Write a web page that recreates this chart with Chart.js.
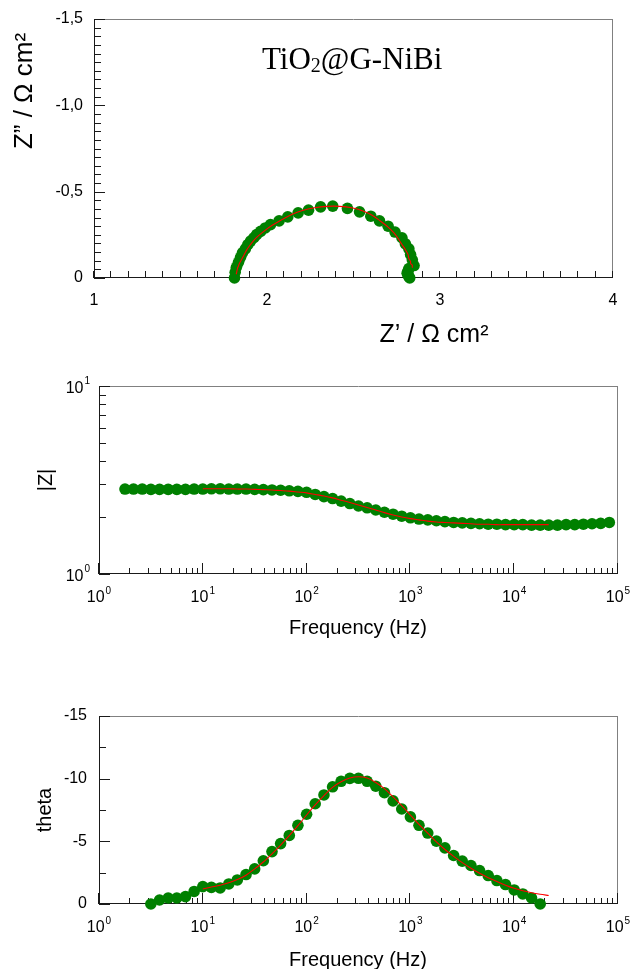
<!DOCTYPE html>
<html><head><meta charset="utf-8">
<script src="https://cdn.jsdelivr.net/npm/chart.js@4.4.1/dist/chart.umd.min.js"></script>
<style>
html,body{margin:0;padding:0;background:#fff;}
body{width:633px;height:969px;position:relative;overflow:hidden;}
.box{position:absolute;left:0;width:633px;}
</style></head><body>
<div class="box" style="top:0;height:350px"><canvas id="c1"></canvas></div>
<div class="box" style="top:350px;height:310px"><canvas id="c2"></canvas></div>
<div class="box" style="top:660px;height:309px"><canvas id="c3"></canvas></div>
<script>
// ---------------- DATA ----------------
// Bode |Z| (measured)
const freqBode = [1.78, 2.15, 2.61, 3.16, 3.83, 4.64, 5.62, 6.81, 8.25, 10, 12.1, 14.7, 17.8, 21.5, 26.1, 31.6, 38.3, 46.4, 56.2, 68.1, 82.5, 100, 121, 147, 178, 215, 261, 316, 383, 464, 562, 681, 825, 1000, 1210, 1470, 1780, 2150, 2610, 3160, 3830, 4640, 5620, 6810, 8250, 10000, 12100, 14700, 17800, 21500, 26100, 31600, 38300, 46400, 56200, 68100, 82500];
const magBode = [2.83, 2.83, 2.83, 2.82, 2.82, 2.82, 2.82, 2.82, 2.83, 2.83, 2.84, 2.84, 2.83, 2.83, 2.83, 2.82, 2.81, 2.80, 2.79, 2.77, 2.75, 2.72, 2.65, 2.58, 2.52, 2.44, 2.37, 2.30, 2.25, 2.19, 2.13, 2.08, 2.03, 1.99, 1.96, 1.94, 1.92, 1.90, 1.88, 1.87, 1.86, 1.85, 1.84, 1.84, 1.83, 1.83, 1.83, 1.82, 1.82, 1.82, 1.82, 1.83, 1.83, 1.84, 1.85, 1.86, 1.88];
// Bode phase (measured)
const freqPhase = [3.16, 3.83, 4.64, 5.62, 6.81, 8.25, 10, 12.1, 14.7, 17.8, 21.5, 26.1, 31.6, 38.3, 46.4, 56.2, 68.1, 82.5, 100, 121, 147, 178, 215, 261, 316, 383, 464, 562, 681, 825, 1000, 1210, 1470, 1780, 2150, 2610, 3160, 3830, 4640, 5620, 6810, 8250, 10000, 12100, 14700, 17800];
const phaseData = [0, -0.32, -0.48, -0.48, -0.59, -1.0, -1.39, -1.33, -1.28, -1.6, -1.92, -2.35, -2.8, -3.45, -4.18, -4.82, -5.47, -6.28, -7.16, -8.0, -8.7, -9.35, -9.79, -10.02, -10.03, -9.79, -9.4, -8.88, -8.23, -7.58, -6.95, -6.28, -5.66, -5.02, -4.48, -3.87, -3.42, -3.07, -2.67, -2.27, -1.87, -1.55, -1.12, -0.8, -0.48, 0];
// Nyquist (measured)
const zReal = [2.825, 2.82, 2.815, 2.81, 2.815, 2.82, 2.85, 2.84, 2.83, 2.82, 2.80, 2.78, 2.74, 2.70, 2.65, 2.60, 2.535, 2.465, 2.38, 2.31, 2.24, 2.18, 2.12, 2.07, 2.02, 1.99, 1.963, 1.94, 1.924, 1.905, 1.889, 1.875, 1.858, 1.847, 1.835, 1.823, 1.816, 1.812];
const zImag = [0, -0.008, -0.018, -0.028, -0.04, -0.055, -0.072, -0.105, -0.136, -0.169, -0.198, -0.233, -0.266, -0.30, -0.331, -0.358, -0.383, -0.403, -0.416, -0.412, -0.393, -0.377, -0.354, -0.331, -0.309, -0.29, -0.27, -0.251, -0.233, -0.214, -0.193, -0.169, -0.146, -0.12, -0.091, -0.062, -0.033, 0];
// Fitted model curve
const freqFit = [10, 12.1, 14.7, 17.8, 21.5, 26.1, 31.6, 38.3, 46.4, 56.2, 68.1, 82.5, 100, 121, 147, 178, 215, 261, 316, 383, 464, 562, 681, 825, 1000, 1210, 1470, 1780, 2150, 2610, 3160, 3830, 4640, 5620, 6810, 8250, 10000, 12100, 14700, 17800, 21500];
const magFit = [2.84, 2.84, 2.84, 2.84, 2.83, 2.83, 2.82, 2.81, 2.80, 2.78, 2.76, 2.73, 2.70, 2.65, 2.60, 2.54, 2.47, 2.40, 2.33, 2.26, 2.19, 2.12, 2.06, 2.01, 1.97, 1.94, 1.91, 1.89, 1.88, 1.87, 1.86, 1.85, 1.84, 1.84, 1.83, 1.83, 1.83, 1.83, 1.83, 1.83, 1.83];
const phaseFit = [-1.2, -1.35, -1.5, -1.7, -1.95, -2.3, -2.8, -3.35, -4.0, -4.7, -5.45, -6.25, -7.1, -7.9, -8.65, -9.3, -9.75, -10.05, -10.15, -10.05, -9.7, -9.2, -8.55, -7.85, -7.1, -6.35, -5.65, -4.95, -4.35, -3.8, -3.3, -2.85, -2.45, -2.1, -1.8, -1.5, -1.25, -1.05, -0.9, -0.78, -0.68];
const zRealFit = [2.84, 2.84, 2.84, 2.83, 2.83, 2.82, 2.815, 2.80, 2.78, 2.76, 2.735, 2.70, 2.655, 2.61, 2.555, 2.49, 2.42, 2.345, 2.275, 2.205, 2.14, 2.085, 2.03, 1.985, 1.948, 1.92, 1.9, 1.883, 1.872, 1.862, 1.853, 1.845, 1.838, 1.834, 1.83, 1.828, 1.826, 1.825, 1.824, 1.823, 1.822];
const zImagFit = [-0.059, -0.067, -0.074, -0.084, -0.096, -0.113, -0.137, -0.164, -0.194, -0.226, -0.26, -0.295, -0.33, -0.362, -0.388, -0.407, -0.415, -0.415, -0.407, -0.391, -0.366, -0.337, -0.305, -0.273, -0.242, -0.214, -0.188, -0.163, -0.143, -0.124, -0.107, -0.092, -0.079, -0.067, -0.058, -0.048, -0.04, -0.034, -0.029, -0.025, -0.022];
// Tick labels
const nyqXTicks = [1, 2, 3, 4];
const nyqXTickLabels = ['1', '2', '3', '4'];
const nyqYTicks = [0, -0.5, -1.0, -1.5];
const nyqYTickLabels = ['0', '-0,5', '-1,0', '-1,5'];
const freqTicks = [1, 10, 100, 1000, 10000, 100000];
const freqTickExp = ['0', '1', '2', '3', '4', '5'];
const magTicks = [1, 10];
const magTickExp = ['0', '1'];
const thetaTicks = [0, -5, -10, -15];
const thetaTickLabels = ['0', '-5', '-10', '-15'];
const sampleLabel = ['TiO', '2', '@G-NiBi'];

// ---------------- HELPERS ----------------
const SANS = '"Liberation Sans", Arial, sans-serif';
const SERIF = '"Liberation Serif", "Times New Roman", serif';
const pts = (xs, ys) => xs.map((x, i) => ({x: x, y: ys[i]}));
function logMinor(lo, hi) {
  const out = [];
  for (let d = lo; d < hi; d *= 10) for (let m = 2; m <= 9; m++) out.push(d * m);
  return out;
}
function linMinor(lo, hi, step) {
  const out = [];
  const n = Math.round((hi - lo) / step);
  for (let i = 0; i <= n; i++) out.push(+(lo + i * step).toFixed(6));
  return out;
}
function drawPow(ctx, base, exp, x, y, align) {
  ctx.font = '16px ' + SANS;
  const wb = ctx.measureText(base).width;
  ctx.font = '10px ' + SANS;
  const we = ctx.measureText(exp).width;
  const total = wb + 1 + we;
  const x0 = align === 'center' ? x - total / 2 : (align === 'right' ? x - total : x);
  ctx.textAlign = 'left'; ctx.textBaseline = 'alphabetic';
  ctx.font = '16px ' + SANS; ctx.fillText(base, x0, y);
  ctx.font = '10px ' + SANS; ctx.fillText(exp, x0 + wb + 1, y - 8.5);
}

const framePlugin = {
  id: 'frame',
  beforeDatasetsDraw(chart, args, spec) {
    const ctx = chart.ctx, a = chart.chartArea;
    const xs = chart.scales.x, ys = chart.scales.y;
    const L = Math.round(a.left), R = Math.round(a.right), T = Math.round(a.top), B = Math.round(a.bottom);
    ctx.save();
    ctx.lineWidth = 1;
    // top & right border (grey)
    ctx.strokeStyle = '#808080';
    ctx.beginPath();
    ctx.moveTo(L, T + 0.5); ctx.lineTo(R, T + 0.5);
    ctx.moveTo(R - 0.5, T); ctx.lineTo(R - 0.5, B);
    ctx.stroke();
    // left & bottom axes
    ctx.strokeStyle = '#1a1a1a';
    ctx.beginPath();
    ctx.moveTo(L + 0.5, T); ctx.lineTo(L + 0.5, B + 0.5);
    ctx.moveTo(L, B - 0.5); ctx.lineTo(R, B - 0.5);
    ctx.stroke();
    // ticks
    ctx.beginPath();
    spec.yMajor.forEach(v => { const p = Math.round(ys.getPixelForValue(v)) + 0.5; ctx.moveTo(L, p); ctx.lineTo(L + spec.yMajLen, p); });
    spec.yMinor.forEach(v => { const p = Math.round(ys.getPixelForValue(v)) + 0.5; ctx.moveTo(L, p); ctx.lineTo(L + spec.yMinLen, p); });
    spec.xMajor.forEach(v => { const p = Math.round(xs.getPixelForValue(v)) - 0.5; ctx.moveTo(p, B); ctx.lineTo(p, B - spec.xMajLen); });
    spec.xMinor.forEach(v => { const p = Math.round(xs.getPixelForValue(v)) - 0.5; ctx.moveTo(p, B); ctx.lineTo(p, B - spec.xMinLen); });
    ctx.stroke();
    // tick labels
    ctx.fillStyle = '#000';
    spec.yLabels.forEach(t => {
      const p = ys.getPixelForValue(t.v);
      if (t.exp !== undefined) {
        drawPow(ctx, t.text, t.exp, L - spec.yGap, p + 6.5, 'right');
      } else {
        ctx.font = '16px ' + SANS; ctx.textAlign = 'right'; ctx.textBaseline = 'middle';
        ctx.fillText(t.text, L - spec.yGap, p);
      }
    });
    spec.xLabels.forEach(t => {
      const p = xs.getPixelForValue(t.v);
      if (t.exp !== undefined) {
        drawPow(ctx, t.text, t.exp, p, B + spec.xBase, 'center');
      } else {
        ctx.font = '16px ' + SANS; ctx.textAlign = 'center'; ctx.textBaseline = 'alphabetic';
        ctx.fillText(t.text, p, B + spec.xBase);
      }
    });
    // axis titles
    spec.titles.forEach(t => {
      ctx.save();
      ctx.font = t.font; ctx.fillStyle = '#000';
      ctx.translate(t.x, t.y);
      if (t.rot) ctx.rotate(-Math.PI / 2);
      ctx.textAlign = 'center'; ctx.textBaseline = t.rot ? 'middle' : 'alphabetic';
      ctx.fillText(t.text, 0, 0);
      ctx.restore();
    });
    // sample label (with subscript)
    if (spec.sample) {
      const s = spec.sample;
      ctx.textAlign = 'left'; ctx.textBaseline = 'alphabetic';
      let x = s.x;
      ctx.font = '31px ' + SERIF; ctx.fillText(s.parts[0], x, s.y); x += ctx.measureText(s.parts[0]).width;
      ctx.font = '20px ' + SERIF; ctx.fillText(s.parts[1], x, s.y + 2.5); x += ctx.measureText(s.parts[1]).width;
      ctx.font = '31px ' + SERIF; ctx.fillText(s.parts[2], x, s.y);
    }
    ctx.restore();
  }
};

function makeChart(id, o) {
  return new Chart(document.getElementById(id), {
    type: 'scatter',
    data: { datasets: [
      { label: 'fit', data: o.fit, showLine: true, borderColor: '#ff0000', borderWidth: 1.1, pointRadius: 0, tension: 0.3, order: 1, clip: false },
      { label: 'data', data: o.pts, showLine: false, pointBackgroundColor: '#008000', backgroundColor: '#008000', pointBorderWidth: 0, borderColor: 'rgba(0,0,0,0)', pointRadius: 5.8, pointHoverRadius: 5.8, order: 2, clip: false }
    ]},
    options: {
      responsive: true, maintainAspectRatio: false, animation: false, devicePixelRatio: 1, events: [],
      layout: { padding: { top: o.padTop, right: o.padRight, left: 0, bottom: 0 } },
      plugins: { legend: { display: false }, tooltip: { enabled: false }, frame: o.frame },
      scales: {
        x: { type: o.xType, min: o.xMin, max: o.xMax, grid: { display: false }, border: { display: false }, ticks: { display: false }, afterFit: s => { s.height = o.xH; } },
        y: { type: o.yType, min: o.yMin, max: o.yMax, reverse: o.yRev, grid: { display: false }, border: { display: false }, ticks: { display: false }, afterFit: s => { s.width = o.yW; } }
      }
    },
    plugins: [framePlugin]
  });
}

// Panel 1: Nyquist
makeChart('c1', {
  pts: pts(zReal, zImag), fit: pts(zRealFit, zImagFit),
  xType: 'linear', xMin: 1, xMax: 4, yType: 'linear', yMin: -1.5, yMax: 0, yRev: true,
  padTop: 19, padRight: 20, yW: 94, xH: 72,
  frame: {
    yMajor: nyqYTicks, yMinor: linMinor(-1.5, 0, 0.05), yMajLen: 11, yMinLen: 7,
    xMajor: nyqXTicks, xMinor: linMinor(1, 4, 0.1), xMajLen: 7, xMinLen: 7,
    yLabels: nyqYTicks.map((v, i) => ({v: v, text: nyqYTickLabels[i]})), yGap: 11,
    xLabels: nyqXTicks.map((v, i) => ({v: v, text: nyqXTickLabels[i]})), xBase: 27,
    titles: [
      { text: 'Z\u201D / \u03A9 cm\u00B2', x: 25, y: 91, rot: true, font: '26px ' + SANS },
      { text: 'Z\u2019 / \u03A9 cm\u00B2', x: 434, y: 342, rot: false, font: '25px ' + SANS }
    ],
    sample: { parts: sampleLabel, x: 262, y: 69 }
  }
});

// Panel 2: |Z|
makeChart('c2', {
  pts: pts(freqBode, magBode), fit: pts(freqFit, magFit),
  xType: 'logarithmic', xMin: 1, xMax: 100000, yType: 'logarithmic', yMin: 1, yMax: 10, yRev: false,
  padTop: 36, padRight: 15, yW: 99, xH: 86,
  frame: {
    yMajor: magTicks, yMinor: logMinor(1, 10), yMajLen: 11, yMinLen: 7,
    xMajor: freqTicks, xMinor: logMinor(1, 100000), xMajLen: 11, xMinLen: 6,
    yLabels: magTicks.map((v, i) => ({v: v, text: '10', exp: magTickExp[i]})), yGap: 9,
    xLabels: freqTicks.map((v, i) => ({v: v, text: '10', exp: freqTickExp[i]})), xBase: 28,
    titles: [
      { text: '|Z|', x: 46, y: 130, rot: true, font: '20px ' + SANS },
      { text: 'Frequency (Hz)', x: 358, y: 284, rot: false, font: '20px ' + SANS }
    ]
  }
});

// Panel 3: theta
makeChart('c3', {
  pts: pts(freqPhase, phaseData), fit: pts(freqFit, phaseFit),
  xType: 'logarithmic', xMin: 1, xMax: 100000, yType: 'linear', yMin: -15, yMax: 0, yRev: true,
  padTop: 56, padRight: 15, yW: 99, xH: 65,
  frame: {
    yMajor: thetaTicks, yMinor: [-2.5, -7.5, -12.5], yMajLen: 11, yMinLen: 7,
    xMajor: freqTicks, xMinor: logMinor(1, 100000), xMajLen: 11, xMinLen: 6,
    yLabels: thetaTicks.map((v, i) => ({v: v, text: thetaTickLabels[i]})), yGap: 12,
    xLabels: freqTicks.map((v, i) => ({v: v, text: '10', exp: freqTickExp[i]})), xBase: 28,
    titles: [
      { text: 'theta', x: 45, y: 150, rot: true, font: '20px ' + SANS },
      { text: 'Frequency (Hz)', x: 358, y: 306, rot: false, font: '20px ' + SANS }
    ]
  }
});
</script>
</body></html>
